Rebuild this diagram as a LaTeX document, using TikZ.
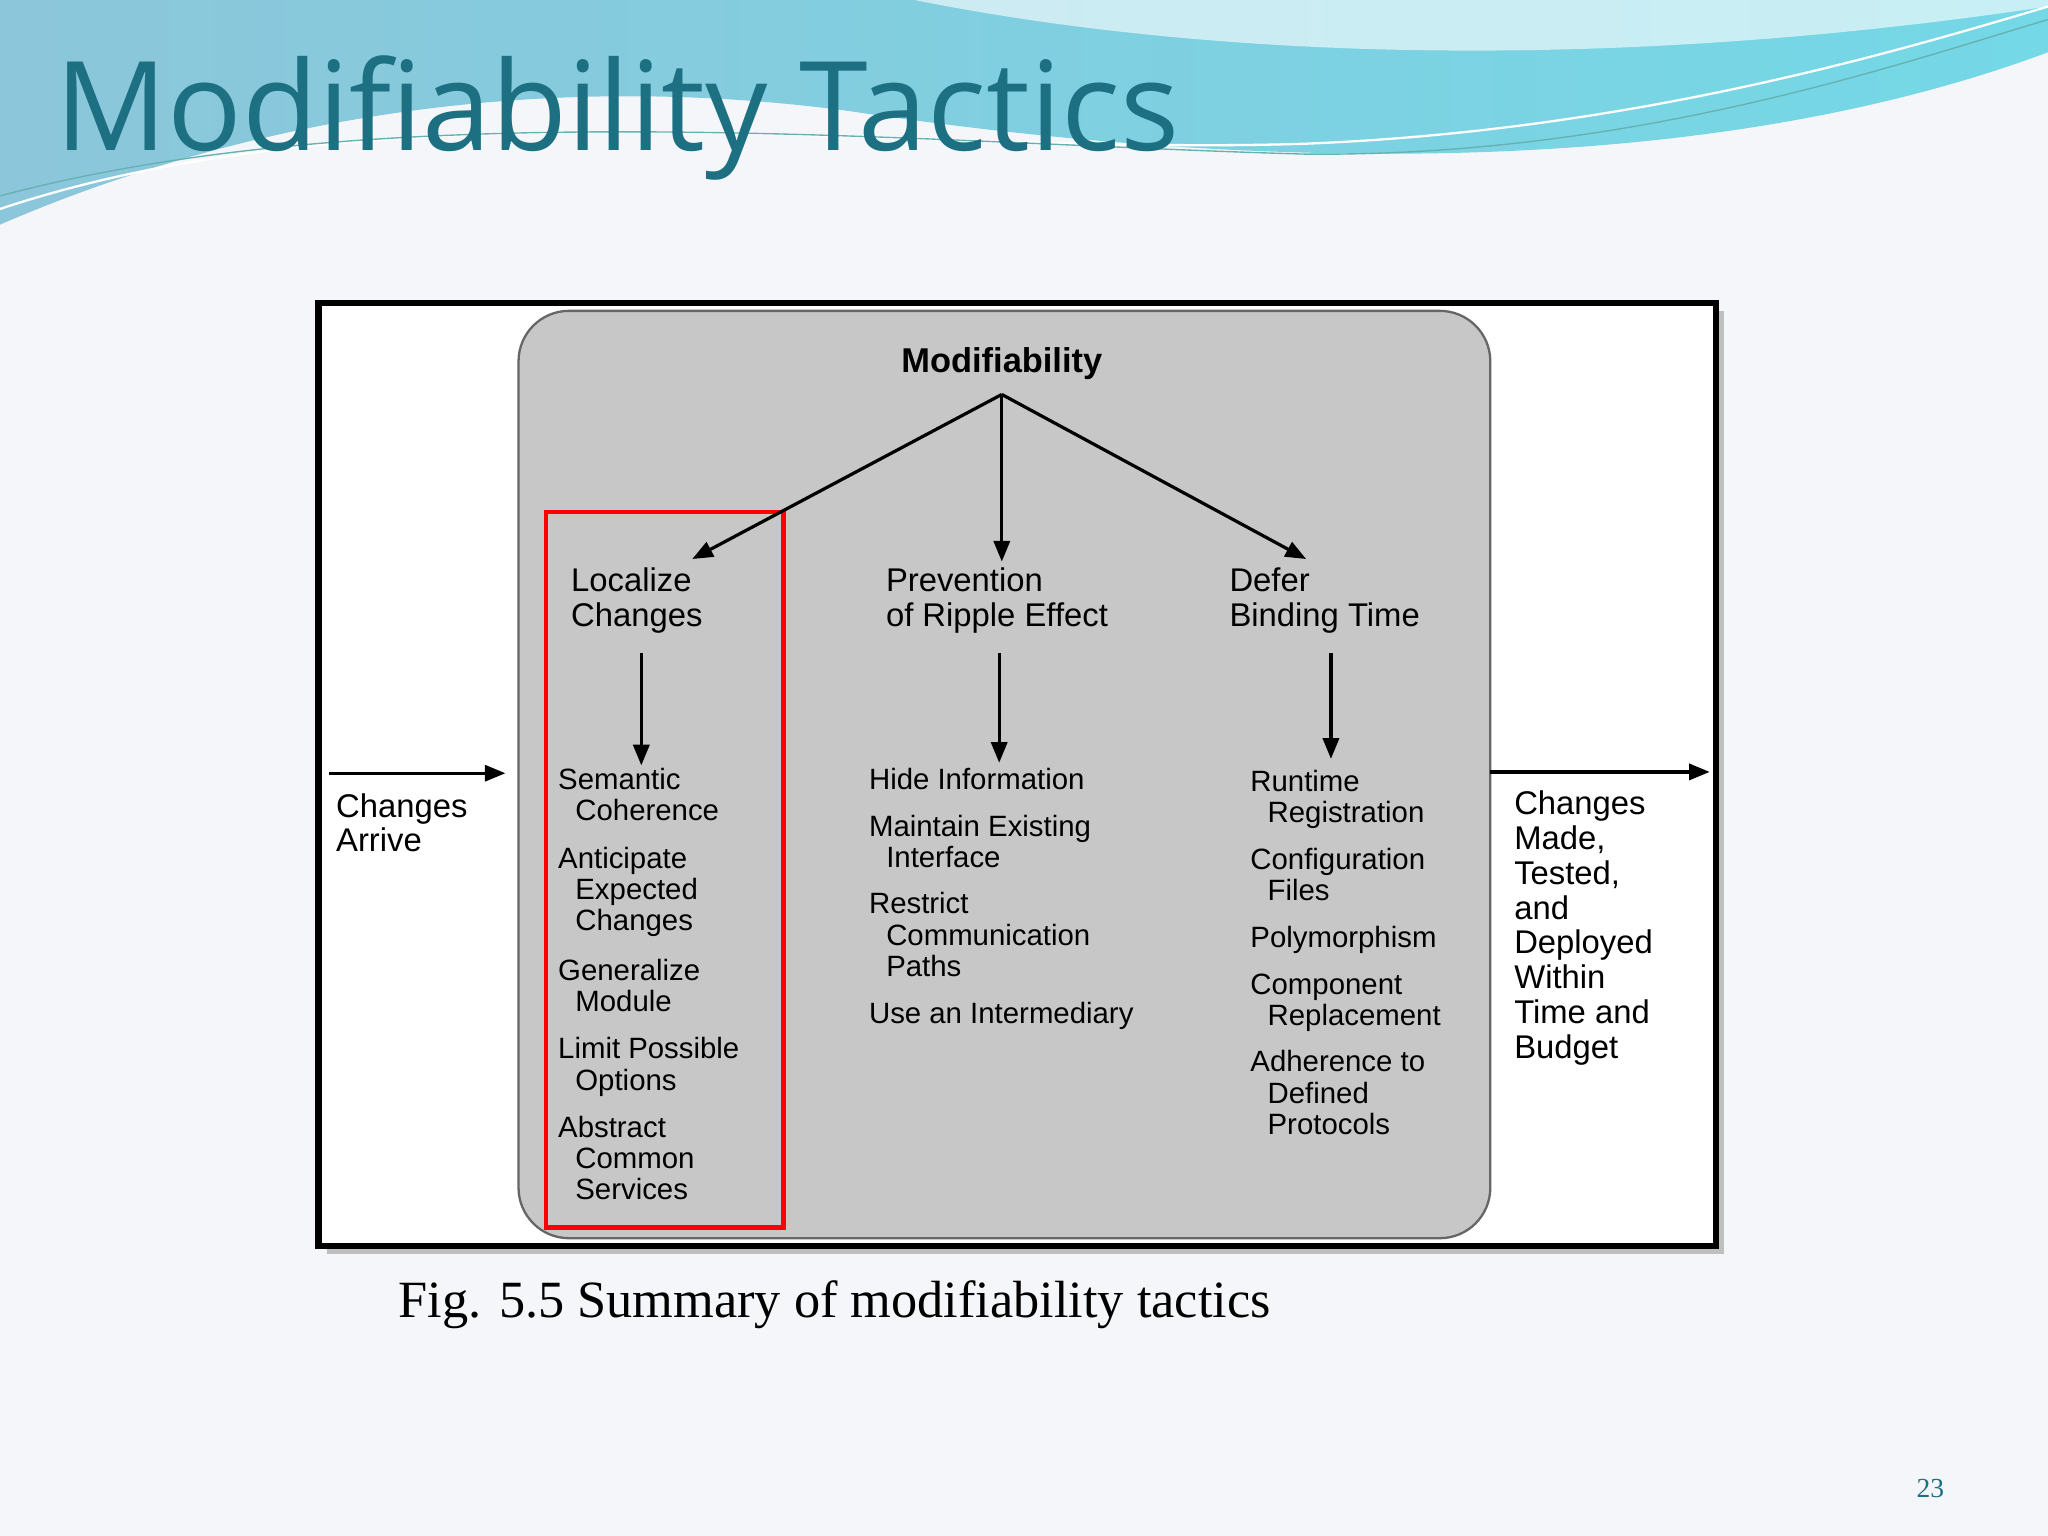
\documentclass[tikz,border=0pt]{standalone}
\usepackage{fontspec}
\setmainfont{Liberation Sans}
\newfontfamily\titlefont{Open Sans}
\newfontfamily\capfont{Liberation Serif}
\usetikzlibrary{arrows.meta}
\definecolor{bgc}{HTML}{F5F6F9}
\definecolor{teal1}{HTML}{1D6F82}
\definecolor{boxgray}{HTML}{C7C7C7}
\definecolor{wavel}{HTML}{8CC6DA}
\definecolor{waver}{HTML}{74D8E6}
\begin{document}
\begin{tikzpicture}[x=0.02cm,y=-0.02cm,
  txt/.style={anchor=north west,align=left,inner sep=0pt,font=\fontsize{12.8}{13.6}\selectfont},
  arr/.style={-{Triangle[length=9pt,width=7pt]},line width=1.4pt}]
\useasboundingbox (0,0) rectangle (1568,1176);
\fill[bgc] (0,0) rectangle (1568,1176);
% header wave
\shade[left color=wavel,right color=waver]
 (0,0)--(1568,0)--(1568,40) .. controls (1300,140) and (950,130) .. (650,85)
 .. controls (350,45) and (120,120) .. (0,172) -- cycle;
\fill[white,opacity=0.6] (700,0) .. controls (900,40) and (1200,60) .. (1568,5) -- (1568,0) -- cycle;
\draw[white,line width=1pt] (0,160) .. controls (300,60) and (700,120) .. (1000,110) .. controls (1250,100) and (1450,40) .. (1568,5);
\draw[teal!60,line width=0.6pt] (0,150) .. controls (300,70) and (700,110) .. (1000,118) .. controls (1250,120) and (1450,50) .. (1568,15);
\node[anchor=west,inner sep=0pt,text=teal1,font=\titlefont\fontsize{54}{54}\selectfont] (title) at (42,90) {Modifiability Tactics};
% frame
\fill[black!25] (250,238) rectangle (1320,960);
\draw[fill=white,line width=2.8pt] (244,232) rectangle (1314,954);
\draw[fill=boxgray,draw=black!60,line width=1pt,rounded corners=22pt] (397,238) rectangle (1141,948);
\draw[red,line width=2pt] (418,392) rectangle (600,940);
\node[font=\bfseries\fontsize{15}{16}\selectfont,inner sep=0pt] (mod) at (767,278) {Modifiability};
\coordinate (top) at (767,302);
\coordinate (la) at (530,428);
\coordinate (pa) at (767,430);
\coordinate (da) at (1000,428);
\draw[arr] (top)--(la);
\draw[arr] (top)--(pa);
\draw[arr] (top)--(da);
\node[txt,font=\fontsize{14.3}{15.5}\selectfont] (loc) at (437,434) {Localize\\Changes};
\node[txt,font=\fontsize{14.3}{15.5}\selectfont] (prev) at (678,434) {Prevention\\of Ripple Effect};
\node[txt,font=\fontsize{14.3}{15.5}\selectfont] (defer) at (941,434) {Defer\\Binding Time};
\coordinate (l1) at (491,500); \coordinate (l2) at (491,586);
\coordinate (p1) at (765,500); \coordinate (p2) at (765,584);
\coordinate (d1) at (1019,500); \coordinate (d2) at (1019,581);
\draw[arr] (l1)--(l2);
\draw[arr] (p1)--(p2);
\draw[arr] (d1)--(d2);
% column 1
\node[txt] (a1) at (427,588) {Semantic\\\hspace*{7.5pt}Coherence};
\node[txt] (a2) at (427,648) {Anticipate\\\hspace*{7.5pt}Expected\\\hspace*{7.5pt}Changes};
\node[txt] (a3) at (427,734) {Generalize\\\hspace*{7.5pt}Module};
\node[txt] (a4) at (427,794) {Limit Possible\\\hspace*{7.5pt}Options};
\node[txt] (a5) at (427,854) {Abstract\\\hspace*{7.5pt}Common\\\hspace*{7.5pt}Services};
% column 2
\node[txt] (b1) at (665,588) {Hide Information};
\node[txt] (b2) at (665,624) {Maintain Existing\\\hspace*{7.5pt}Interface};
\node[txt] (b3) at (665,683) {Restrict\\\hspace*{7.5pt}Communication\\\hspace*{7.5pt}Paths};
\node[txt] (b4) at (665,767) {Use an Intermediary};
% column 3
\node[txt] (c1) at (957,589) {Runtime\\\hspace*{7.5pt}Registration};
\node[txt] (c2) at (957,649) {Configuration\\\hspace*{7.5pt}Files};
\node[txt] (c3) at (957,709) {Polymorphism};
\node[txt] (c4) at (957,745) {Component\\\hspace*{7.5pt}Replacement};
\node[txt] (c5) at (957,804) {Adherence to\\\hspace*{7.5pt}Defined\\\hspace*{7.5pt}Protocols};
% side
\coordinate (ca1) at (252,592); \coordinate (ca2) at (387,592);
\draw[arr] (ca1)--(ca2);
\coordinate (cm1) at (1141,591); \coordinate (cm2) at (1309,591);
\draw[arr] (cm1)--(cm2);
\node[txt,font=\fontsize{14.3}{15.2}\selectfont] (arrive) at (257,607) {Changes\\Arrive};
\node[txt,font=\fontsize{14.3}{15.2}\selectfont] (made) at (1159,605) {Changes\\Made,\\Tested,\\and\\Deployed\\Within\\Time and\\Budget};
\node[anchor=west,inner sep=0pt,font=\capfont\fontsize{22.8}{24}\selectfont] (cap) at (305,999) {Fig. 5.5 Summary of modifiability tactics};
\node[inner sep=0pt,text=teal1,font=\capfont\fontsize{12}{13}\selectfont] (pg) at (1478,1140) {23};
\end{tikzpicture}
\end{document}
